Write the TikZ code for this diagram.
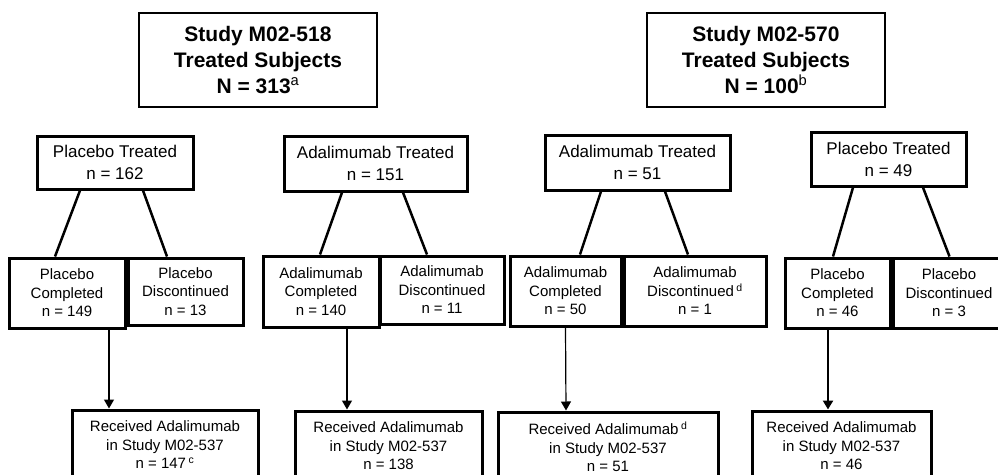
\documentclass[tikz,border=0pt]{standalone}
\usepackage{fontspec}
\setmainfont{Liberation Sans}
\usetikzlibrary{arrows.meta}

\tikzset{
  topbox/.style={draw, line width=1.5pt, inner sep=0pt, align=center,
    font=\bfseries\fontsize{21}{26}\selectfont},
  armbox/.style={draw, line width=3pt, inner sep=0pt, align=center,
    font=\fontsize{17}{22}\selectfont},
  subbox/.style={draw, line width=3pt, inner sep=0pt, align=center,
    font=\fontsize{15}{18.5}\selectfont},
  branch/.style={line width=2.5pt},
  flow/.style={-{Triangle[length=9pt,width=10pt]}, line width=1.2pt}
}

\begin{document}
\begin{tikzpicture}[x=1pt, y=-1pt]
\useasboundingbox (0,0) rectangle (998,474);

% studies
\node[topbox, minimum width=238pt, minimum height=94pt] (s518) at (258,60) {Study M02-518\\Treated Subjects\\N = 313\textsuperscript{\mdseries a}};
\node[topbox, minimum width=238pt, minimum height=94pt] (s570) at (766,60) {Study M02-570\\Treated Subjects\\N = 100\textsuperscript{\mdseries b}};

% treatment arms
\node[armbox, minimum width=156pt, minimum height=53pt] (pt1) at (115,162.5) {Placebo Treated\\n = 162};
\node[armbox, minimum width=183pt, minimum height=55pt] (at1) at (375.5,163.5) {Adalimumab Treated\\n = 151};
\node[armbox, minimum width=185pt, minimum height=55pt] (at2) at (637.5,162.5) {Adalimumab Treated\\n = 51};
\node[armbox, minimum width=155pt, minimum height=54pt] (pt2) at (888.5,159) {Placebo Treated\\n = 49};

% completed / discontinued
\node[subbox, minimum width=116pt, minimum height=70pt] (pc1) at (67,293) {Placebo\\Completed\\n = 149};
\node[subbox, minimum width=115pt, minimum height=67pt] (pd1) at (185.5,291.5) {Placebo\\Discontinued\\n = 13};
\node[subbox, minimum width=116pt, minimum height=71pt] (ac1) at (321,291.5) {Adalimumab\\Completed\\n = 140};
\node[subbox, minimum width=124pt, minimum height=68pt] (ad1) at (442,290) {Adalimumab\\Discontinued\\n = 11};
\node[subbox, minimum width=111pt, minimum height=70pt] (ac2) at (565.5,291) {Adalimumab\\Completed\\n = 50};
\node[subbox, minimum width=142pt, minimum height=70pt] (ad2) at (695,291) {Adalimumab\\Discontinued\,\textsuperscript{d}\\n = 1};
\node[subbox, minimum width=105pt, minimum height=70pt] (pc2) at (837.5,293) {Placebo\\Completed\\n = 46};
\node[subbox, minimum width=112pt, minimum height=70pt] (pd2) at (949,293) {Placebo\\Discontinued\\n = 3};

% open-label study
\node[subbox, minimum width=186pt, minimum height=70pt] (rx1) at (165,445) {Received Adalimumab\\in Study M02-537\\n = 147\,\textsuperscript{c}};
\node[subbox, minimum width=187pt, minimum height=70pt] (rx2) at (388.5,446) {Received Adalimumab\\in Study M02-537\\n = 138};
\node[subbox, minimum width=220pt, minimum height=70pt] (rx3) at (608,447) {Received Adalimumab\,\textsuperscript{d}\\in Study M02-537\\n = 51};
\node[subbox, minimum width=179pt, minimum height=70pt] (rx4) at (841.5,446) {Received Adalimumab\\in Study M02-537\\n = 46};

% branches
\draw[branch] ([xshift=-35pt]pt1.south) -- ([xshift=-12pt]pc1.north);
\draw[branch] ([xshift=28pt]pt1.south) -- ([xshift=-18.5pt]pd1.north);
\draw[branch] ([xshift=-33.5pt]at1.south) -- ([xshift=-1pt]ac1.north);
\draw[branch] ([xshift=27.5pt]at1.south) -- ([xshift=-15pt]ad1.north);
\draw[branch] ([xshift=-36.5pt]at2.south) -- ([xshift=14.5pt]ac2.north);
\draw[branch] ([xshift=27.5pt]at2.south) -- ([xshift=-7pt]ad2.north);
\draw[branch] ([xshift=-35.5pt]pt2.south) -- ([xshift=-4.5pt]pc2.north);
\draw[branch] ([xshift=34.5pt]pt2.south) -- ([xshift=0.5pt]pd2.north);

% arrows
\draw[flow] ([xshift=42pt]pc1.south) -- ([xshift=-56pt]rx1.north);
\draw[flow] ([xshift=26pt]ac1.south) -- ([xshift=-41.5pt]rx2.north);
\draw[flow] ([xshift=0pt]ac2.south) -- ([xshift=-42pt]rx3.north);
\draw[flow, line width=2.5pt] ([xshift=-9.5pt]pc2.south) -- ([xshift=-13.5pt]rx4.north);
\end{tikzpicture}
\end{document}
